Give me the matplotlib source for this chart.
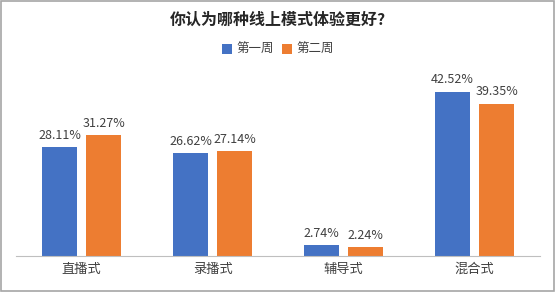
import matplotlib.pyplot as plt
import numpy as np

plt.rcParams['font.family'] = ['Noto Sans CJK SC', 'DejaVu Sans']

categories = ['直播式', '录播式', '辅导式', '混合式']
week1 = [28.11, 26.62, 2.74, 42.52]
week2 = [31.27, 27.14, 2.24, 39.35]
series_names = ['第一周', '第二周']
colors = ['#4472C4', '#ED7D31']

fig = plt.figure(figsize=(5.56, 2.92), dpi=100)
ax = fig.add_axes([16 / 556, 36 / 292, 524 / 556, 174 / 292])

x = np.arange(len(categories))
w = 0.267
gap = 0.035
b1 = ax.bar(x - w / 2 - gap, week1, w, color=colors[0], label=series_names[0])
b2 = ax.bar(x + w / 2 + gap, week2, w, color=colors[1], label=series_names[1])

for bars, vals in ((b1, week1), (b2, week2)):
    for bar, v in zip(bars, vals):
        ax.annotate(f'{v:.2f}%', (bar.get_x() + bar.get_width() / 2, v),
                    xytext=(0, 4), textcoords='offset points',
                    ha='center', va='bottom', fontsize=9, color='#404040')

ax.set_xlim(-0.5, len(categories) - 0.5)
ax.set_ylim(0, 45)
ax.set_yticks([])
ax.set_xticks(x)
ax.set_xticklabels(categories, fontsize=9.5, color='#404040')
ax.tick_params(axis='x', length=0, pad=5)
for s in ['top', 'right', 'left']:
    ax.spines[s].set_visible(False)
ax.spines['bottom'].set_color('#BFBFBF')

fig.suptitle('你认为哪种线上模式体验更好?', y=0.96, fontsize=11.5, fontweight='bold', color='#262626')
fig.legend(loc='center', bbox_to_anchor=(0.5, 0.83), ncol=2, frameon=False,
           fontsize=9, handlelength=0.8, handleheight=0.8, handletextpad=0.4,
           columnspacing=0.6, labelcolor='#404040')

fig.patches.append(plt.Rectangle((0.002, 0.003), 0.995, 0.994, transform=fig.transFigure,
                                 fill=False, edgecolor='#A6A6A6', linewidth=1.2))

fig.savefig('out.png', dpi=100)
